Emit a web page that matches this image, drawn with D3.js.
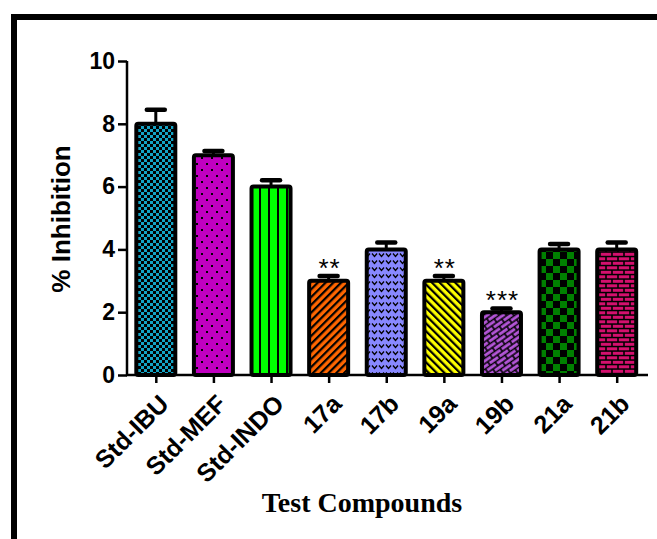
<!DOCTYPE html>
<html>
<head>
<meta charset="utf-8">
<script src="https://cdn.jsdelivr.net/npm/d3@7"></script>
<style>
  body { margin: 0; background: #fff; }
  svg { display: block; }
</style>
</head>
<body>
<div class="outer-container"></div>
<script>
const compounds = ['Std-IBU', 'Std-MEF', 'Std-INDO', '17a', '17b', '19a', '19b', '21a', '21b']
const inhibition = [8, 7, 6, 3, 4, 3, 2, 4, 4]
const errors = [0.45, 0.13, 0.2, 0.15, 0.22, 0.15, 0.12, 0.17, 0.22]
const stars = ['', '', '', '**', '', '**', '***', '', '']
const yTicks = [0, 2, 4, 6, 8, 10]

const fills = ['#13a3c4', '#c000c0', '#00ff00', '#ff6600', '#8888ff', '#ffff00', '#b455d8', '#008000', '#d4106e']
const patterns = ['checkSmall', 'dots', 'vlines', 'diagUp', 'vees', 'diagDown', 'diagBrick', 'checkBig', 'brick']

const w = 657
const h = 539
const plot = { left: 127, right: 645.5, top: 61, bottom: 375 }

const svg = d3.select('.outer-container')
  .append('svg')
  .attr('width', w)
  .attr('height', h)

// frame
svg.append('rect')
  .attr('x', 14)
  .attr('y', 17)
  .attr('width', 700)
  .attr('height', 600)
  .attr('fill', 'none')
  .attr('stroke', '#000')
  .attr('stroke-width', 6)

const defs = svg.append('defs')

function makePattern(name, color) {
  const p = defs.append('pattern')
    .attr('id', name)
    .attr('patternUnits', 'userSpaceOnUse')
  if (name === 'checkSmall') {
    p.attr('width', 6).attr('height', 6)
    p.append('rect').attr('width', 6).attr('height', 6).attr('fill', color)
    p.append('rect').attr('width', 3).attr('height', 3).attr('fill', '#000')
    p.append('rect').attr('x', 3).attr('y', 3).attr('width', 3).attr('height', 3).attr('fill', '#000')
  } else if (name === 'checkBig') {
    p.attr('width', 14).attr('height', 14)
    p.append('rect').attr('width', 14).attr('height', 14).attr('fill', color)
    p.append('rect').attr('width', 7).attr('height', 7).attr('fill', '#000')
    p.append('rect').attr('x', 7).attr('y', 7).attr('width', 7).attr('height', 7).attr('fill', '#000')
  } else if (name === 'dots') {
    p.attr('width', 10).attr('height', 12)
    p.append('rect').attr('width', 10).attr('height', 12).attr('fill', color)
    p.append('rect').attr('x', 1).attr('y', 1).attr('width', 2).attr('height', 2).attr('fill', '#000')
    p.append('rect').attr('x', 6).attr('y', 7).attr('width', 2).attr('height', 2).attr('fill', '#000')
  } else if (name === 'vlines') {
    p.attr('width', 9).attr('height', 9)
    p.append('rect').attr('width', 9).attr('height', 9).attr('fill', color)
    p.append('rect').attr('x', 7).attr('width', 2).attr('height', 9).attr('fill', '#000')
  } else if (name === 'diagUp' || name === 'diagDown') {
    p.attr('width', 5.5).attr('height', 5.5)
      .attr('patternTransform', name === 'diagUp' ? 'rotate(45)' : 'rotate(-45)')
    p.append('rect').attr('width', 5.5).attr('height', 5.5).attr('fill', color)
    p.append('rect').attr('width', 2.2).attr('height', 5.5).attr('fill', '#000')
  } else if (name === 'vees') {
    p.attr('width', 7).attr('height', 7)
    p.append('rect').attr('width', 7).attr('height', 7).attr('fill', color)
    p.append('path').attr('d', 'M1,1.5 L3.5,4.5 L6,1.5').attr('fill', 'none')
      .attr('stroke', '#000').attr('stroke-width', 1.3)
  } else if (name === 'brick' || name === 'diagBrick') {
    p.attr('width', 12).attr('height', 9)
    if (name === 'diagBrick') p.attr('patternTransform', 'rotate(-35)')
    p.append('rect').attr('width', 12).attr('height', 9).attr('fill', '#000')
    p.append('rect').attr('x', 0.8).attr('y', 0.8).attr('width', 10.4).attr('height', 3).attr('fill', color)
    p.append('rect').attr('x', -5.2).attr('y', 5.3).attr('width', 10.4).attr('height', 3).attr('fill', color)
    p.append('rect').attr('x', 6.8).attr('y', 5.3).attr('width', 10.4).attr('height', 3).attr('fill', color)
  }
}

patterns.forEach((name, i) => makePattern(name, fills[i]))

const xScale = d3.scalePoint()
  .domain(compounds)
  .range([plot.left, plot.right])
  .padding(0.5)

const yScale = d3.scaleLinear()
  .domain([0, 10])
  .range([plot.bottom, plot.top])

const barW = 39
const data = compounds.map((c, i) => ({ c, v: inhibition[i], e: errors[i], s: stars[i], p: patterns[i] }))

// error bars (drawn first, bar covers lower half)
const err = svg.append('g')
err.selectAll('line.stem')
  .data(data)
  .enter()
  .append('line')
  .attr('x1', d => xScale(d.c))
  .attr('x2', d => xScale(d.c))
  .attr('y1', d => yScale(d.v))
  .attr('y2', d => yScale(d.v + d.e))
  .attr('stroke', '#000')
  .attr('stroke-width', 3)
err.selectAll('line.cap')
  .data(data)
  .enter()
  .append('line')
  .attr('x1', d => xScale(d.c) - 9)
  .attr('x2', d => xScale(d.c) + 9)
  .attr('y1', d => yScale(d.v + d.e))
  .attr('y2', d => yScale(d.v + d.e))
  .attr('stroke', '#000')
  .attr('stroke-width', 4.5)
  .attr('stroke-linecap', 'round')

svg.selectAll('rect.bar')
  .data(data)
  .enter()
  .append('rect')
  .attr('class', 'bar')
  .attr('x', d => xScale(d.c) - barW / 2)
  .attr('y', d => yScale(d.v))
  .attr('width', barW)
  .attr('height', d => yScale(0) - yScale(d.v))
  .attr('rx', 2)
  .attr('fill', d => 'url(#' + d.p + ')')
  .attr('stroke', '#000')
  .attr('stroke-width', 4)

svg.selectAll('text.star')
  .data(data.filter(d => d.s))
  .enter()
  .append('text')
  .attr('class', 'star')
  .attr('x', d => xScale(d.c) + 1)
  .attr('y', d => yScale(d.v + d.e) + 1)
  .attr('text-anchor', 'middle')
  .attr('font-family', 'Arial, Liberation Sans, sans-serif')
  .attr('font-size', 26)
  .attr('letter-spacing', 1)
  .text(d => d.s)

// axes
const yAxis = d3.axisLeft(yScale)
  .tickValues(yTicks)
  .tickSize(9)
  .tickPadding(3)

const gy = svg.append('g')
  .attr('transform', 'translate(' + plot.left + ',0)')
  .call(yAxis)
gy.select('.domain').attr('stroke-width', 2.5).attr('d', 'M0,' + plot.top + 'V' + (plot.bottom + 1))
gy.selectAll('.tick line').attr('stroke-width', 2.5)
gy.selectAll('.tick text')
  .attr('font-family', 'Arial, Liberation Sans, sans-serif')
  .attr('font-weight', 'bold')
  .attr('font-size', 23)
  .attr('fill', '#000')

const xAxis = d3.axisBottom(xScale)
  .tickSize(8)
  .tickFormat('')

const gx = svg.append('g')
  .attr('transform', 'translate(0,' + plot.bottom + ')')
  .call(xAxis)
gx.select('.domain').attr('stroke-width', 2.5).attr('d', 'M' + (plot.left - 1) + ',0H648')
gx.selectAll('.tick line').attr('stroke-width', 2.5)

svg.selectAll('text.xlab')
  .data(compounds)
  .enter()
  .append('text')
  .attr('class', 'xlab')
  .attr('text-anchor', 'end')
  .attr('transform', d => 'translate(' + (xScale(d) + 2) + ',' + (plot.bottom + 18) + ') rotate(-45)')
  .attr('dy', '0.7em')
  .attr('font-family', 'Arial, Liberation Sans, sans-serif')
  .attr('font-weight', 'bold')
  .attr('font-size', 25)
  .text(d => d)

svg.append('text')
  .attr('text-anchor', 'middle')
  .attr('transform', 'translate(70,' + ((plot.top + plot.bottom) / 2 + 1) + ') rotate(-90)')
  .attr('font-family', 'Arial, Liberation Sans, sans-serif')
  .attr('font-weight', 'bold')
  .attr('font-size', 26)
  .text('% Inhibition')

svg.append('text')
  .attr('x', 362)
  .attr('y', 512)
  .attr('text-anchor', 'middle')
  .attr('font-family', 'Liberation Serif, Times New Roman, serif')
  .attr('font-weight', 'bold')
  .attr('font-size', 28)
  .text('Test Compounds')
</script>
</body>
</html>
